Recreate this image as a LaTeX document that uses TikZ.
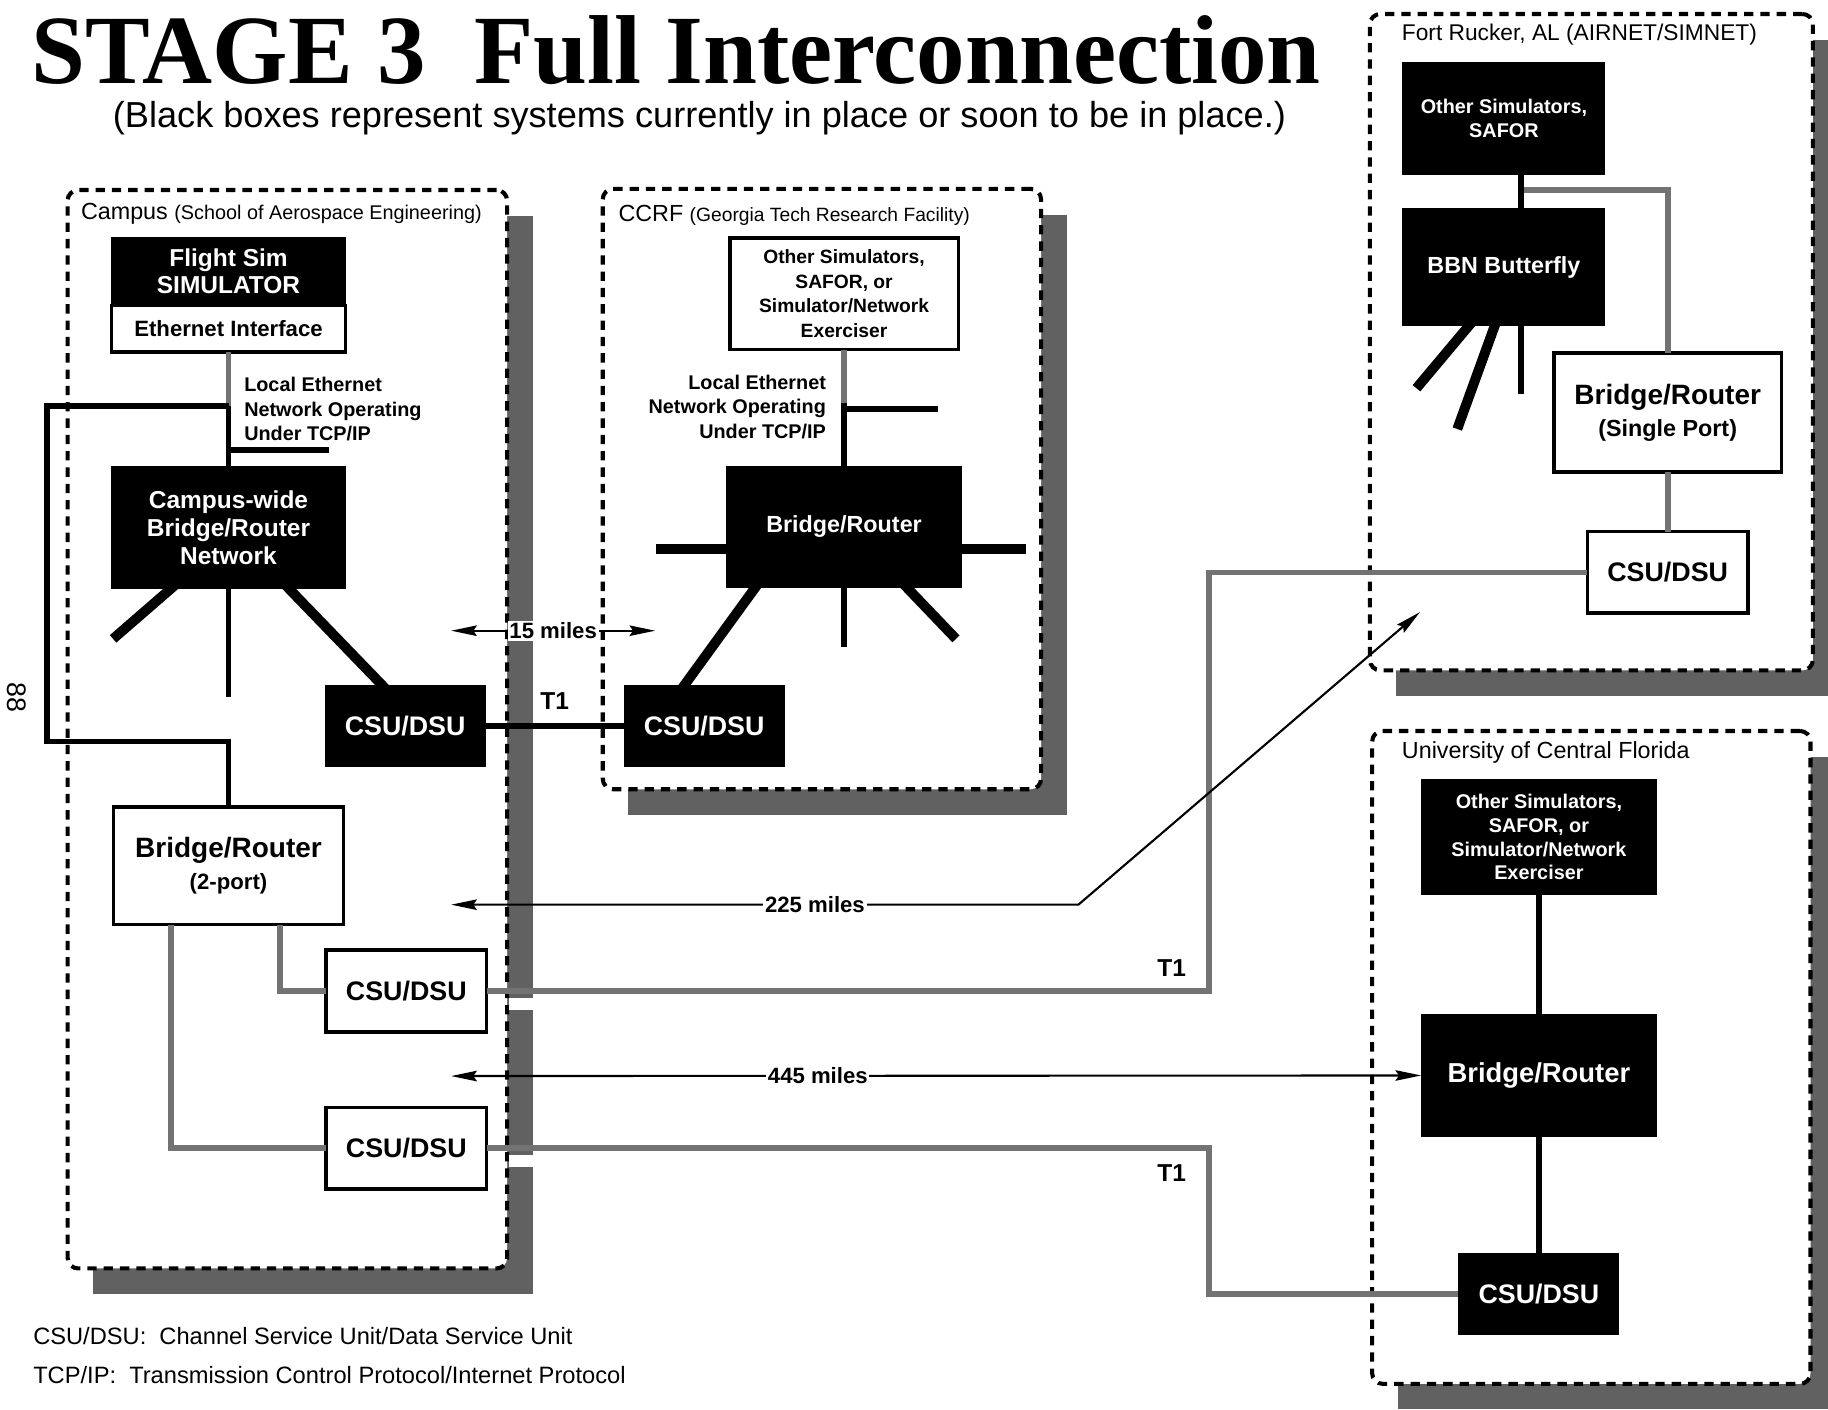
\documentclass[tikz,border=0pt]{standalone}
\usepackage{fontspec}
\setmainfont{Liberation Sans}
\newfontfamily\titlefont{Liberation Serif}[FakeStretch=0.99]
\usetikzlibrary{positioning,calc,backgrounds,arrows.meta}
\newcommand{\fsz}[2]{\fontsize{#1}{#2}\selectfont}

\begin{document}
\begin{tikzpicture}[x=1pt,y=-1pt,
      region/.style={draw,line width=3.5pt,dash pattern=on 8pt off 6pt,rounded corners=9pt,fill=white,inner sep=0pt,outer sep=0pt},
      backdrop/.style={fill=black!62},
      darkbox/.style={fill=black,text=white,align=center,inner sep=0pt,outer sep=0pt},
      lightbox/.style={draw,line width=3pt,fill=white,align=center,inner sep=0pt,outer sep=0pt},
      wire/.style={line width=5pt},
      hatchwire/.style={line width=5pt,draw=black!55},
      spoke/.style={line width=8.5pt},
      span/.style={line width=1.8pt,{Stealth[length=22pt,width=9pt,inset=3pt]}-{Stealth[length=22pt,width=9pt,inset=3pt]}},
      miles/.style={fill=white,inner sep=1.5pt,font=\bfseries\fsz{19}{22}},
      note/.style={font=\bfseries\fsz{17}{21}},
      csu/.style={minimum width=138pt,minimum height=70pt,font=\bfseries\fsz{23}{26}}]
      \useasboundingbox (0,0) rectangle (1568,1209);
      \node[anchor=base,inner sep=0pt,text depth=0pt,font=\titlefont\bfseries\fsz{84}{90}] (title) at (580,72) {STAGE 3\ \ Full Interconnection};
      \node[anchor=base,inner sep=0pt,font=\fsz{31}{34}] (subtitle) at (600,109) {(Black boxes represent systems currently in place or soon to be in place.)};
      \node[region,minimum width=377pt,minimum height=925pt] (campus) at (246.5,625.5) {};
      \node[region,minimum width=376pt,minimum height=515pt] (ccrf) at (705,419.5) {};
      \node[region,minimum width=380pt,minimum height=563pt] (rucker) at (1365,293.5) {};
      \node[region,minimum width=376pt,minimum height=560pt] (ucf) at (1365,907) {};
      \begin{scope}[on background layer]
        \fill[white] (0,0) rectangle (1568,1209);
        \foreach \r in {campus,ccrf,rucker,ucf}
          \fill[backdrop] ($(\r.north west)+(22,22)$) rectangle ($(\r.south east)+(22,22)$);
      \end{scope}
      \node[anchor=base west,font=\fsz{20}{22}] (campuslbl) at (66,188) {Campus {\fsz{17}{18}(School of Aerospace Engineering)}};
      \node[anchor=base west,font=\fsz{20}{22}] (ccrflbl) at (527,190) {CCRF {\fsz{16.5}{18}(Georgia Tech Research Facility)}};
      \node[anchor=base west,font=\fsz{19.5}{22}] (ruckerlbl) at (1199,35) {Fort Rucker, AL (AIRNET/SIMNET)};
      \node[anchor=base west,font=\fsz{20}{22}] (ucflbl) at (1199,651) {University of Central Florida};
      \node[darkbox,minimum width=201pt,minimum height=59pt,font=\bfseries\fsz{21}{23}] (fsim) at (196,232.5) {Flight Sim\\SIMULATOR};
      \node[lightbox,minimum width=201pt,minimum height=40pt,below=0pt of fsim,font=\bfseries\fsz{19}{22}] (ether) {Ethernet Interface};
      \node[darkbox,minimum width=202pt,minimum height=105pt,font=\bfseries\fsz{21}{24}] (cwide) at (196,452.5) {Campus-wide\\Bridge/Router\\Network};
      \node[darkbox,csu] (csuA) at (347.5,622.5) {CSU/DSU};
      \node[lightbox,minimum width=197pt,minimum height=101pt,font=\bfseries\fsz{24}{28}] (twoport) at (196,742.5) {Bridge/Router\\{\fsz{19}{22}(2-port)}};
      \node[lightbox,csu] (csuB) at (348.5,850) {CSU/DSU};
      \node[lightbox,csu,below=65pt of csuB] (csuC) {CSU/DSU};
      \node[note,anchor=west,align=left] (campusnote) at (206,351) {Local Ethernet\\Network Operating\\Under TCP/IP};
      \node[rotate=-90,font=\fsz{23}{26}] (pagenum) at (14,598) {88};
      \node[lightbox,minimum width=196pt,minimum height=96pt,font=\bfseries\fsz{16.5}{21}] (ccrfsim) at (724,252) {Other Simulators,\\SAFOR, or\\Simulator/Network\\Exerciser};
      \node[darkbox,minimum width=202pt,minimum height=104pt,font=\bfseries\fsz{20}{24}] (ccrfbr) at (724,452) {Bridge/Router};
      \node[darkbox,csu] (csuD) at (604,622.5) {CSU/DSU};
      \node[note,anchor=east,align=right] (ccrfnote) at (712,349) {Local Ethernet\\Network Operating\\Under TCP/IP};
      \node[darkbox,minimum width=174pt,minimum height=97pt,font=\bfseries\fsz{17}{20}] (rucksim) at (1290,101.5) {Other Simulators,\\SAFOR};
      \node[darkbox,minimum width=174pt,minimum height=102pt,below=28pt of rucksim,font=\bfseries\fsz{20}{24}] (bbn) {BBN Butterfly};
      \node[lightbox,minimum width=195pt,minimum height=102pt,font=\bfseries\fsz{24}{28}] (ruckbr) at (1430.5,354) {Bridge/Router\\{\fsz{20}{24}(Single Port)}};
      \node[lightbox,csu,below=51pt of ruckbr] (csuE) {CSU/DSU};
      \node[darkbox,minimum width=202pt,minimum height=100pt,font=\bfseries\fsz{17}{20.5}] (ucfsim) at (1320,718) {Other Simulators,\\SAFOR, or\\Simulator/Network\\Exerciser};
      \node[darkbox,minimum width=202pt,minimum height=105pt,below=102pt of ucfsim,font=\bfseries\fsz{23.5}{27}] (ucfbr) {Bridge/Router};
      \node[darkbox,csu,below=100pt of ucfbr] (csuF) {CSU/DSU};
      \node[anchor=base west,font=\fsz{20.3}{24}] (key1) at (25,1153) {CSU/DSU:\ \ Channel Service Unit/Data Service Unit};
      \node[anchor=base west,font=\fsz{20.3}{24}] (key2) at (25,1187) {TCP/IP:\ \ Transmission Control Protocol/Internet Protocol};
      \coordinate (ctap) at (196,348); \coordinate (cloop) at (40,636); \coordinate (cstub) at (282,386);
      \draw[hatchwire] (ether.south) -- (ctap); \draw[wire] (ctap) -- (cwide.north);
      \draw[wire] (ctap) -| (cloop) -| (twoport.north); \draw[wire] (ctap |- cstub) -- (cstub);
      \coordinate (cw1) at (97,548); \coordinate (cw2) at (196,598);
      \draw[spoke] ([xshift=-46pt,yshift=3pt]cwide.south) -- (cw1); \draw[wire] (cwide.south) -- (cw2);
      \draw[spoke] ([xshift=49pt,yshift=3pt]cwide.south) -- ([xshift=-17pt,yshift=-3pt]csuA.north);
      \draw[wire] (csuA.east) -- node[above=8pt,font=\bfseries\fsz{21}{24}] (t1a) {T1} (csuD.west);
      \draw[hatchwire] ([xshift=44.5pt]twoport.south) |- (csuB.west);
      \draw[hatchwire] ([xshift=-49pt]twoport.south) |- (csuC.west);
      \fill[white] (437,856) rectangle (460,866); \fill[white] (437,991) rectangle (460,1001);
      \coordinate (ruckturn) at (1037,0 |- csuE.west); \coordinate (ucfturn) at (1037,0 |- csuF.west);
      \draw[hatchwire] (csuB.east) -| (ruckturn) -- (csuE.west);
      \draw[hatchwire] (csuC.east) -| (ucfturn) -- (csuF.west);
      \node[font=\bfseries\fsz{21}{24}] (t1b) at (1005,830) {T1};
      \node[font=\bfseries\fsz{21}{24}] (t1c) at (1005,1006) {T1};
      \coordinate (m15l) at (387,541); \coordinate (m15r) at (562,541);
      \draw[span] (m15l) -- node[miles] (m15) {15 miles} (m15r);
      \coordinate (m225l) at (387,776); \coordinate (m225k) at (925,776); \coordinate (m225r) at (1218,525);
      \draw[span] (m225l) -- node[miles,pos=0.58] (m225) {225 miles} (m225k) -- (m225r);
      \coordinate (m445l) at (387,923);
      \draw[span] (m445l) -- node[miles,pos=0.378] (m445) {445 miles} (ucfbr.west);
      \coordinate (rtap) at (724,346); \coordinate (rstub) at (805,351);
      \draw[hatchwire] (ccrfsim.south) -- (rtap); \draw[wire] (rtap) -- (ccrfbr.north);
      \draw[wire] (rtap |- rstub) -- (rstub);
      \coordinate (rs1) at (563,471); \coordinate (rs2) at (880,471); \coordinate (rs3) at (724,555); \coordinate (rs4) at (820,548);
      \draw[spoke] ([yshift=-19pt,xshift=3pt]ccrfbr.west) -- (rs1); \draw[spoke] ([yshift=-19pt,xshift=-3pt]ccrfbr.east) -- (rs2);
      \draw[spoke] ([xshift=-74pt,yshift=3pt]ccrfbr.south) -- ([xshift=-19pt,yshift=-3pt]csuD.north);
      \draw[wire] (ccrfbr.south) -- (rs3); \draw[spoke] ([xshift=51pt,yshift=3pt]ccrfbr.south) -- (rs4);
      \coordinate (btap) at (1305,163);
      \draw[hatchwire] (btap) -| (ruckbr.north); \draw[hatchwire] (ruckbr.south) -- (csuE.north);
      \draw[wire] ([xshift=15pt]rucksim.south) -- ([xshift=15pt]bbn.north);
      \coordinate (bs1) at (1215,333); \coordinate (bs2) at (1250,368); \coordinate (bs3) at (1305,338);
      \draw[spoke] ([xshift=-28pt,yshift=3pt]bbn.south) -- (bs1); \draw[spoke] ([xshift=-7pt,yshift=3pt]bbn.south) -- (bs2);
      \draw[wire] ([xshift=15pt]bbn.south) -- (bs3);
      \draw[wire] (ucfsim.south) -- (ucfbr.north); \draw[wire] (ucfbr.south) -- (csuF.north);
    \end{tikzpicture}
\end{document}
